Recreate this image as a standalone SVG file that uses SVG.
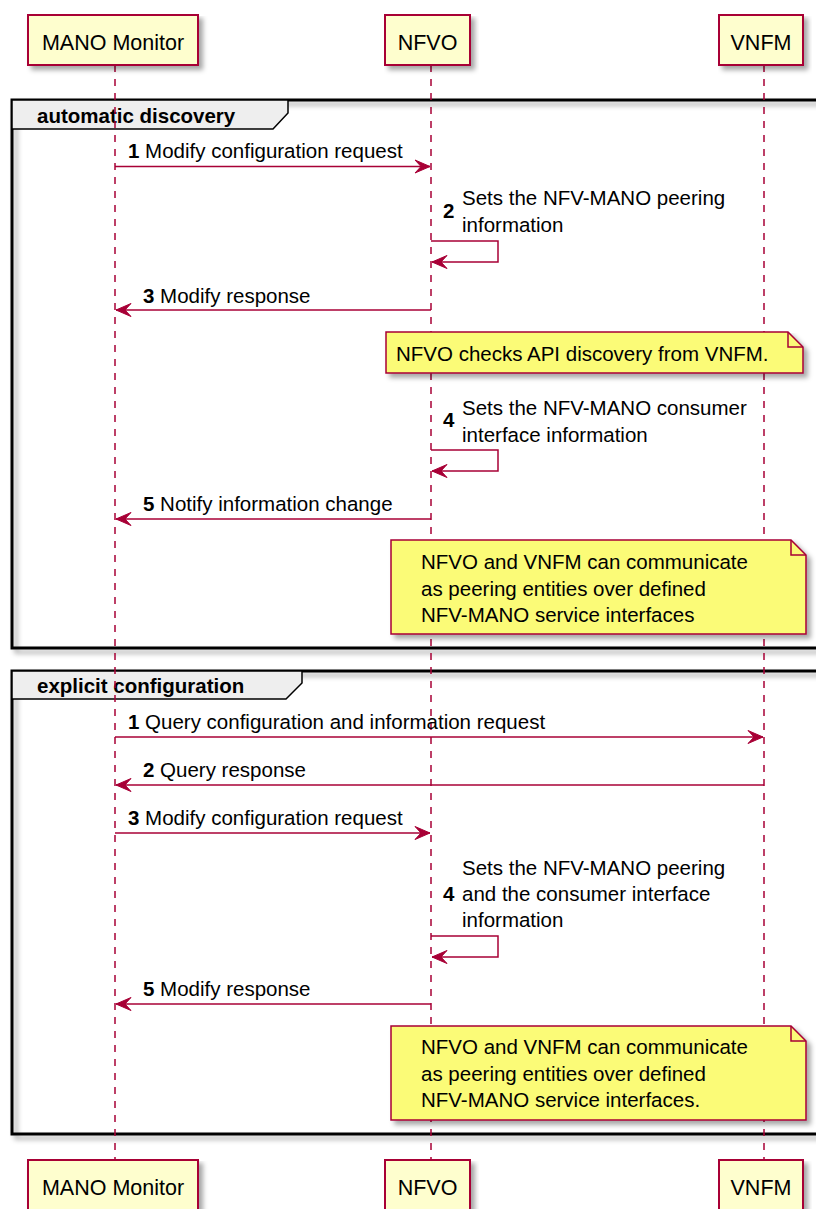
<svg xmlns="http://www.w3.org/2000/svg" width="816" height="1209" viewBox="0 0 816 1209">
<defs>
<filter id="sh" x="-5%" y="-5%" width="115%" height="130%">
<feGaussianBlur in="SourceAlpha" stdDeviation="2.5"/>
<feOffset dx="4" dy="4" result="b"/>
<feFlood flood-color="#000" flood-opacity="0.35"/>
<feComposite in2="b" operator="in"/>
<feMerge><feMergeNode/><feMergeNode in="SourceGraphic"/></feMerge>
</filter>
<marker id="ah" markerUnits="userSpaceOnUse" viewBox="-16 -8 17 16" refX="0" refY="0" markerWidth="17" markerHeight="16" orient="auto">
<polygon points="0,0 -15,-6.5 -9,0 -15,6.5" fill="#A80036" stroke="#A80036" stroke-width="1" stroke-linejoin="miter"/>
</marker>
<style>
.part{fill:#FEFECE;stroke:#A80036;stroke-width:2;filter:url(#sh)}
.ptxt{font-family:"Liberation Sans",Arial,sans-serif;font-size:21.5px;fill:#000;text-anchor:middle}
.life{stroke:#A80036;stroke-width:1.5;stroke-dasharray:7,7;fill:none}
.grp{fill:none;stroke:#000;stroke-width:3;filter:url(#sh)}
.tab{fill:#EEEEEE;stroke:#000;stroke-width:1.5}
.gtxt{font-family:"Liberation Sans",Arial,sans-serif;font-size:20.5px;font-weight:bold;fill:#000}
.msg{stroke:#A80036;stroke-width:1.5;fill:none;marker-end:url(#ah)}
.txt{font-family:"Liberation Sans",Arial,sans-serif;font-size:20.5px;fill:#000}
.num{font-weight:bold}
.note{fill:#FBFB77;stroke:#A80036;stroke-width:1.5;filter:url(#sh)}
.fold{fill:none;stroke:#A80036;stroke-width:1.5}
</style>
</defs>
<rect width="816" height="1209" fill="#fff"/>

<g id="group-automatic-discovery">
<rect class="grp" x="12" y="100" width="820" height="548"/>
<polygon class="tab" points="12,100 288,100 288,113 273,129 12,129"/>
<text class="gtxt" x="37" y="123">automatic discovery</text>
</g>
<g id="group-explicit-configuration">
<rect class="grp" x="12" y="671" width="820" height="463"/>
<polygon class="tab" points="12,671 302,671 302,683 286,699 12,699"/>
<text class="gtxt" x="37" y="693">explicit configuration</text>
</g>

<g id="lifelines">
<line class="life" x1="115" y1="65" x2="115" y2="1160"/>
<line class="life" x1="431" y1="65" x2="431" y2="1160"/>
<line class="life" x1="764" y1="65" x2="764" y2="1160"/>
</g>

<g id="mano-monitor">
<rect class="part" x="28" y="15" width="170" height="50"/>
<text class="ptxt" x="113" y="50">MANO Monitor</text>
<rect class="part" x="28" y="1160" width="170" height="52"/>
<text class="ptxt" x="113" y="1195">MANO Monitor</text>
</g>
<g id="nfvo">
<rect class="part" x="385" y="15" width="85" height="50"/>
<text class="ptxt" x="427.5" y="50">NFVO</text>
<rect class="part" x="385" y="1160" width="85" height="52"/>
<text class="ptxt" x="427.5" y="1195">NFVO</text>
</g>
<g id="vnfm">
<rect class="part" x="719" y="15" width="84" height="50"/>
<text class="ptxt" x="761" y="50">VNFM</text>
<rect class="part" x="719" y="1160" width="84" height="52"/>
<text class="ptxt" x="761" y="1195">VNFM</text>
</g>

<g id="note-api-discovery">
<path class="note" d="M386,332 H788 L803,347 V373 H386 Z"/>
<path class="fold" d="M788,332 V347 H803"/>
<text class="txt" x="396" y="361">NFVO checks API discovery from VNFM.</text>
</g>
<g id="note-peering-1">
<path class="note" d="M391,540 H791 L806,555 V634 H391 Z"/>
<path class="fold" d="M791,540 V555 H806"/>
<text class="txt" x="421" y="569">NFVO and VNFM can communicate</text>
<text class="txt" x="421" y="596">as peering entities over defined</text>
<text class="txt" x="421" y="622">NFV-MANO service interfaces</text>
</g>
<g id="note-peering-2">
<path class="note" d="M391,1026 H791 L806,1041 V1120 H391 Z"/>
<path class="fold" d="M791,1026 V1041 H806"/>
<text class="txt" x="421" y="1054">NFVO and VNFM can communicate</text>
<text class="txt" x="421" y="1081">as peering entities over defined</text>
<text class="txt" x="421" y="1107">NFV-MANO service interfaces.</text>
</g>

<g id="connectors">
<line class="msg" x1="115" y1="166.5" x2="430" y2="166.5"/>
<text class="txt" x="128" y="158"><tspan class="num">1</tspan> Modify configuration request</text>

<path class="msg" d="M431,241 H498 V262 H432"/>
<text class="txt num" x="443" y="218">2</text>
<text class="txt" x="462" y="205">Sets the NFV-MANO peering</text>
<text class="txt" x="462" y="232">information</text>

<line class="msg" x1="431" y1="310" x2="116" y2="310"/>
<text class="txt" x="143" y="303"><tspan class="num">3</tspan> Modify response</text>

<path class="msg" d="M431,450 H498 V471 H432"/>
<text class="txt num" x="443" y="427">4</text>
<text class="txt" x="462" y="415">Sets the NFV-MANO consumer</text>
<text class="txt" x="462" y="442">interface information</text>

<line class="msg" x1="431" y1="519" x2="116" y2="519"/>
<text class="txt" x="143" y="511"><tspan class="num">5</tspan> Notify information change</text>

<line class="msg" x1="115" y1="737" x2="763" y2="737"/>
<text class="txt" x="128" y="729"><tspan class="num">1</tspan> Query configuration and information request</text>

<line class="msg" x1="764" y1="785" x2="116" y2="785"/>
<text class="txt" x="143" y="777"><tspan class="num">2</tspan> Query response</text>

<line class="msg" x1="115" y1="833" x2="430" y2="833"/>
<text class="txt" x="128" y="825"><tspan class="num">3</tspan> Modify configuration request</text>

<path class="msg" d="M431,936 H498 V957 H432"/>
<text class="txt num" x="443" y="901">4</text>
<text class="txt" x="462" y="875">Sets the NFV-MANO peering</text>
<text class="txt" x="462" y="901">and the consumer interface</text>
<text class="txt" x="462" y="927">information</text>

<line class="msg" x1="431" y1="1004" x2="116" y2="1004"/>
<text class="txt" x="143" y="996"><tspan class="num">5</tspan> Modify response</text>
</g>
</svg>
